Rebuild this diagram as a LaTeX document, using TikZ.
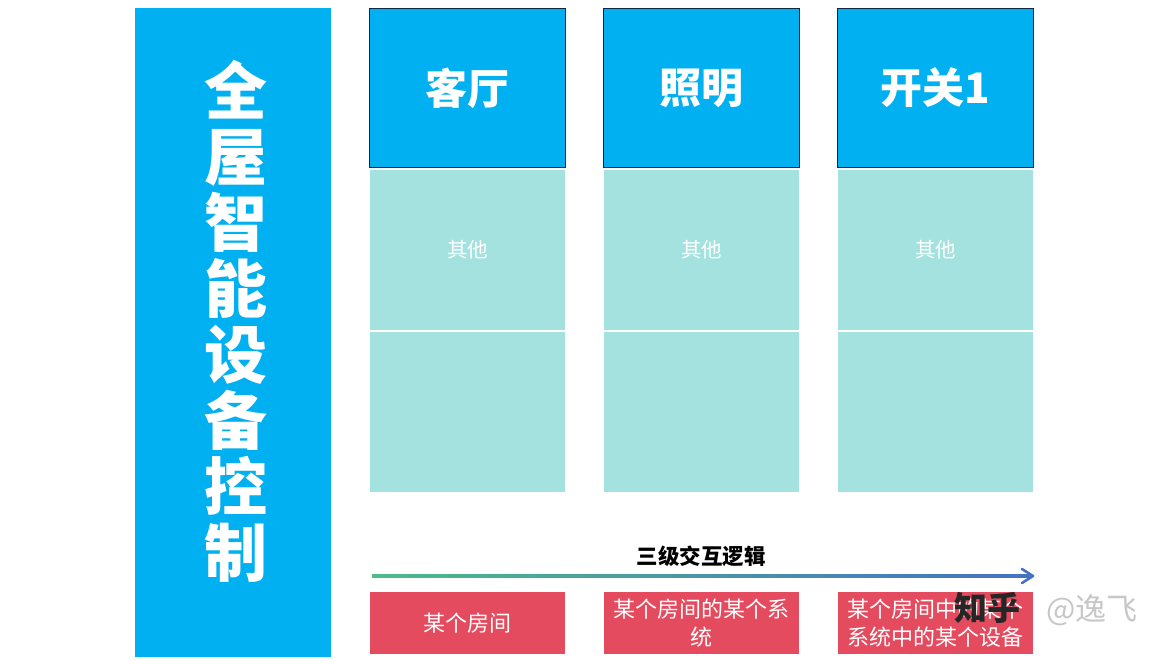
\documentclass[tikz,border=0pt]{standalone}
\usepackage{fontspec}
\newfontfamily\cjk{Noto Sans CJK SC}
\usetikzlibrary{arrows.meta}
\definecolor{barblue}{HTML}{00B0F0}
\definecolor{hdrborder}{HTML}{0E2841}
\definecolor{tealbox}{HTML}{A3E2DE}
\definecolor{redbox}{HTML}{E44B5E}
\definecolor{arrgreen}{HTML}{4CBB8A}
\definecolor{arrblue}{HTML}{4472C4}
\tikzset{
  hdr/.style={draw=hdrborder, line width=1.8pt, fill=barblue, minimum width=196pt, minimum height=159pt, inner sep=0pt, text=white, font=\cjk\bfseries\fontsize{42}{46}\selectfont},
  body/.style={fill=tealbox, minimum width=195pt, minimum height=160pt, inner sep=0pt, text=white, font=\cjk\fontsize{20.5}{24}\selectfont},
  red/.style={fill=redbox, minimum width=195pt, minimum height=62pt, inner sep=0pt, text=white, align=center, font=\cjk\fontsize{22}{28}\selectfont},
}
\begin{document}
\begin{tikzpicture}[x=1pt,y=-1pt]
\useasboundingbox (0,0) rectangle (1170,661);
\fill[white] (0,0) rectangle (1170,661);
% left bar
\node[fill=barblue, minimum width=196pt, minimum height=649pt, inner sep=0pt, anchor=north west] (bar) at (135,8) {};
\node[text=white, align=center, font=\cjk\bfseries\fontsize{63}{66}\selectfont] (bartext) at (236,321) {全\\屋\\智\\能\\设\\备\\控\\制};
% headers
\node[hdr] (h1) at (467.5,88) {客厅};
\node[hdr] (h2) at (701.5,88) {照明};
\node[hdr] (h3) at (935.5,88) {开关1};
% bodies
\node[body] (b1a) at (467.5,250) {其他};
\node[body] (b1b) at (467.5,412) {};
\node[body] (b2a) at (701.5,250) {其他};
\node[body] (b2b) at (701.5,412) {};
\node[body] (b3a) at (935.5,250) {其他};
\node[body] (b3b) at (935.5,412) {};
% title
\node[font=\cjk\bfseries\fontsize{21.5}{24}\selectfont, text=black] (title) at (701,556) {三级交互逻辑};
% arrow
\coordinate (as) at (372,576);
\coordinate (ae) at (1033,576);
\shade[left color=arrgreen, right color=arrblue] ([yshift=-1.5pt]as) rectangle ([yshift=1.5pt,xshift=-2pt]ae);
\draw[arrblue, line width=2.6pt, line cap=round, line join=round] ([xshift=-11pt,yshift=-7pt]ae) -- (ae) -- ([xshift=-11pt,yshift=7pt]ae);
% red boxes
\node[red] (r1) at (467.5,623) {某个房间};
\node[red] (r2) at (701.5,623) {某个房间的某个系\\统};
\node[red] (r3) at (935.5,623) {某个房间中的某个\\系统中的某个设备};
% watermark
\node[font=\cjk\bfseries\fontsize{33}{36}\selectfont, text=black!85] (wm1) at (987,608) {知乎};
\node[font=\cjk\fontsize{31}{34}\selectfont, text=black!22] (wm2) at (1092,610) {@逸飞};
\end{tikzpicture}
\end{document}
